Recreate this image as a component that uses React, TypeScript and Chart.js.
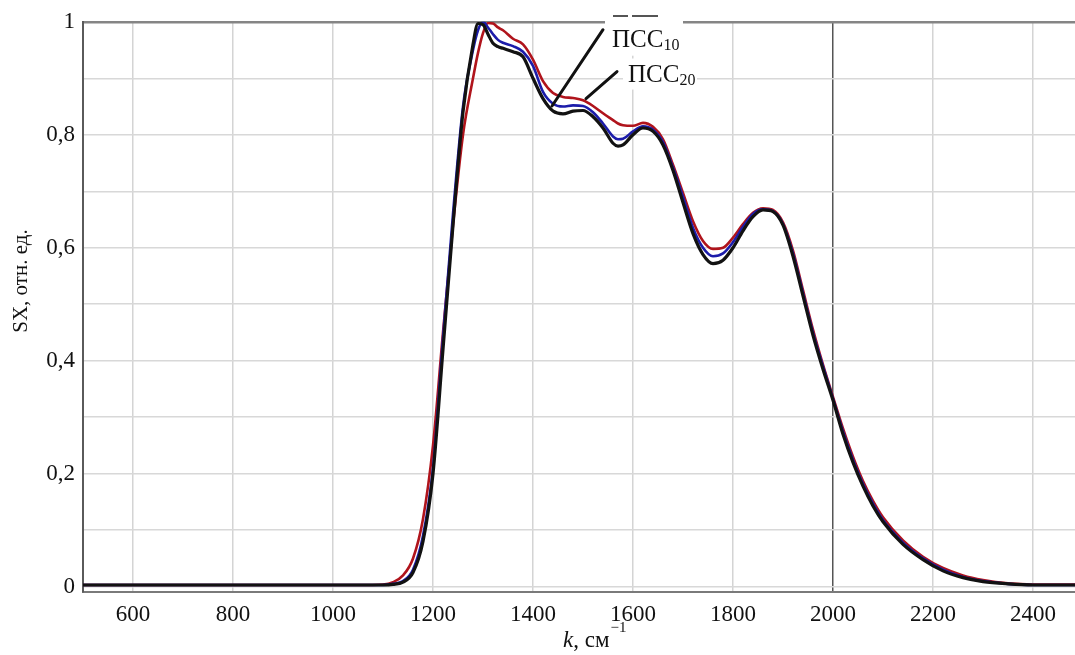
import React, { useEffect, useRef } from "react";
import { Chart, registerables } from "chart.js";

Chart.register(...registerables);

const kValues = [500, 600, 700, 800, 900, 1000, 1050, 1100, 1120, 1140, 1160, 1180, 1200, 1220, 1240, 1260, 1280, 1290, 1300, 1310, 1320, 1330, 1340, 1360, 1380, 1400, 1420, 1440, 1460, 1480, 1500, 1520, 1540, 1560, 1570, 1580, 1600, 1620, 1640, 1660, 1680, 1700, 1720, 1740, 1760, 1780, 1800, 1820, 1840, 1860, 1880, 1900, 1920, 1940, 1960, 1980, 2000, 2020, 2040, 2060, 2080, 2100, 2140, 2180, 2220, 2260, 2300, 2350, 2400, 2484];

const blackSeries = [0.003, 0.003, 0.003, 0.003, 0.003, 0.003, 0.003, 0.003, 0.004, 0.008, 0.025, 0.08, 0.2, 0.42, 0.64, 0.84, 0.96, 0.997, 0.995, 0.978, 0.962, 0.956, 0.953, 0.947, 0.938, 0.9, 0.864, 0.842, 0.837, 0.842, 0.843, 0.832, 0.812, 0.785, 0.78, 0.782, 0.8, 0.812, 0.806, 0.782, 0.737, 0.68, 0.625, 0.588, 0.572, 0.578, 0.6, 0.63, 0.655, 0.667, 0.664, 0.64, 0.585, 0.515, 0.445, 0.385, 0.33, 0.27, 0.22, 0.178, 0.143, 0.115, 0.075, 0.048, 0.028, 0.016, 0.009, 0.005, 0.003, 0.003];

const blueSeries = [0.003, 0.003, 0.003, 0.003, 0.003, 0.003, 0.003, 0.003, 0.005, 0.01, 0.03, 0.09, 0.21, 0.44, 0.66, 0.85, 0.95, 0.985, 1.0, 0.99, 0.978, 0.968, 0.963, 0.957, 0.947, 0.922, 0.876, 0.855, 0.85, 0.852, 0.851, 0.84, 0.82, 0.797, 0.792, 0.793, 0.806, 0.815, 0.809, 0.787, 0.742, 0.69, 0.635, 0.6, 0.585, 0.59, 0.61, 0.637, 0.66, 0.668, 0.665, 0.642, 0.59, 0.52, 0.45, 0.39, 0.333, 0.275, 0.225, 0.182, 0.147, 0.118, 0.078, 0.05, 0.03, 0.017, 0.01, 0.005, 0.003, 0.003];

const redSeries = [0.003, 0.003, 0.003, 0.003, 0.003, 0.003, 0.003, 0.004, 0.008, 0.02, 0.05, 0.12, 0.25, 0.45, 0.64, 0.8, 0.9, 0.945, 0.98, 0.998, 0.997, 0.99, 0.985, 0.97, 0.96, 0.933, 0.895, 0.874, 0.867, 0.865, 0.861, 0.851, 0.838, 0.826, 0.82, 0.817, 0.816, 0.821, 0.814, 0.792, 0.747, 0.697, 0.647, 0.612, 0.598, 0.6, 0.618, 0.642, 0.662, 0.67, 0.667, 0.645, 0.595, 0.525, 0.455, 0.393, 0.336, 0.28, 0.23, 0.187, 0.152, 0.123, 0.082, 0.053, 0.033, 0.02, 0.012, 0.006, 0.004, 0.004];

const xTickValues = [600, 800, 1000, 1200, 1400, 1600, 1800, 2000, 2200, 2400];
const yGridValues = [0, 0.1, 0.2, 0.3, 0.4, 0.5, 0.6, 0.7, 0.8, 0.9, 1.0];
const yLabelValues = [0, 0.2, 0.4, 0.6, 0.8, 1.0];

const seriesNames = ["ПСС", "ПСС10", "ПСС20"];
const seriesColors = ["#121212", "#1c1caa", "#b0141c"];

const SERIF = "'Liberation Serif', 'DejaVu Serif', serif";

const overlayPlugin = {
  id: "overlay",
  afterDatasetsDraw(chart: any) {
    const ctx = chart.ctx;
    const xs = chart.scales.x;
    const ys = chart.scales.y;
    const px = (v: number) => xs.getPixelForValue(v);
    const py = (v: number) => ys.getPixelForValue(v);
    ctx.save();

    // label backgrounds
    ctx.fillStyle = "#ffffff";
    ctx.fillRect(px(1544), py(1.01), px(1700) - px(1544), py(0.94) - py(1.01));
    ctx.fillRect(px(1580), py(0.935), px(1728) - px(1580), py(0.88) - py(0.935));

    // remnant of a clipped label above the plot
    ctx.fillStyle = "#555";
    ctx.fillRect(px(1560), 15, px(1590) - px(1560), 2);
    ctx.fillRect(px(1598), 15, px(1650) - px(1598), 2);

    // leader lines
    ctx.strokeStyle = "#111";
    ctx.lineWidth = 3;
    ctx.lineCap = "round";
    ctx.beginPath();
    ctx.moveTo(px(1540), py(0.986));
    ctx.lineTo(px(1438), py(0.851));
    ctx.moveTo(px(1568), py(0.912));
    ctx.lineTo(px(1506), py(0.864));
    ctx.stroke();

    const drawSub = (main: string, sub: string, x: number, y: number) => {
      ctx.fillStyle = "#111";
      ctx.textBaseline = "alphabetic";
      ctx.textAlign = "left";
      ctx.font = `25px ${SERIF}`;
      ctx.fillText(main, x, y);
      const w = ctx.measureText(main).width;
      ctx.font = `16px ${SERIF}`;
      ctx.fillText(sub, x + w, y + 3);
    };
    drawSub("ПСС", "10", px(1558), py(0.956));
    drawSub("ПСС", "20", px(1590), py(0.894));

    // x axis title
    ctx.fillStyle = "#111";
    ctx.textBaseline = "alphabetic";
    ctx.textAlign = "left";
    let x = 563;
    const yb = 647;
    ctx.font = `italic 23px ${SERIF}`;
    ctx.fillText("k", x, yb);
    x += ctx.measureText("k").width;
    ctx.font = `23px ${SERIF}`;
    ctx.fillText(", см", x, yb);
    x += ctx.measureText(", см").width;
    ctx.font = `15px ${SERIF}`;
    ctx.fillText("−1", x + 1, yb - 15);

    // y axis title
    ctx.translate(21, 281);
    ctx.rotate(-Math.PI / 2);
    ctx.textAlign = "center";
    ctx.textBaseline = "middle";
    ctx.font = `21px ${SERIF}`;
    ctx.fillText("SX, отн. ед.", 0, 0);
    ctx.restore();
  },
};

export default function App() {
  const ref = useRef<HTMLCanvasElement | null>(null);
  useEffect(() => {
    if (!ref.current) return;
    const seriesValues = [blackSeries, blueSeries, redSeries];
    const chart = new Chart(ref.current, {
      type: "line",
      data: {
        datasets: seriesValues.map((vals, i) => ({
          label: seriesNames[i],
          data: kValues.map((k, j) => ({ x: k, y: vals[j] })),
          borderColor: seriesColors[i],
          borderWidth: i === 0 ? 3.2 : 2.6,
          pointRadius: 0,
          cubicInterpolationMode: "monotone" as const,
          fill: false,
        })),
      },
      options: {
        animation: false,
        responsive: false,
        maintainAspectRatio: false,
        layout: { padding: { top: 20, right: 0, left: 0, bottom: 0 } },
        plugins: { legend: { display: false }, tooltip: { enabled: false } },
        scales: {
          x: {
            type: "linear",
            min: 500,
            max: 2484,
            afterBuildTicks: (s: any) => {
              s.ticks = xTickValues.map((v) => ({ value: v }));
            },
            afterFit: (s: any) => {
              s.height = 63;
            },
            ticks: {
              padding: 9,
              color: "#111",
              font: { family: SERIF, size: 23 },
              callback: (v: any) => String(v),
              maxRotation: 0,
              autoSkip: false,
            },
            grid: {
              drawTicks: false,
              color: (c: any) => (c.tick && c.tick.value === 2000 ? "#555555" : "#d4d4d4"),
              lineWidth: 1.5,
            },
            border: { display: true, color: "#7a7a7a", width: 2 },
          },
          y: {
            type: "linear",
            min: -0.0094,
            max: 1.0,
            afterBuildTicks: (s: any) => {
              s.ticks = yGridValues.map((v) => ({ value: v }));
            },
            afterFit: (s: any) => {
              s.width = 83;
            },
            ticks: {
              padding: 8,
              color: "#111",
              font: { family: SERIF, size: 23 },
              autoSkip: false,
              callback: (v: any) => {
                const n = Number(v);
                const hit = yLabelValues.find((t) => Math.abs(t - n) < 1e-6);
                if (hit === undefined) return "";
                return String(Math.round(hit * 10) / 10).replace(".", ",");
              },
            },
            grid: {
              drawTicks: false,
              color: (c: any) => (c.tick && Math.abs(c.tick.value - 1) < 1e-6 ? "#858585" : "#d8d8d8"),
              lineWidth: (c: any) => (c.tick && Math.abs(c.tick.value - 1) < 1e-6 ? 2.5 : 1.5),
            },
            border: { display: true, color: "#5a5a5a", width: 2 },
          },
        },
      },
      plugins: [overlayPlugin],
    });
    return () => chart.destroy();
  }, []);
  return (
    <div style={{ position: "fixed", left: 0, top: 0, width: 1075, height: 655, background: "#fff" }}>
      <canvas ref={ref} width={1075} height={655} style={{ width: 1075, height: 655, display: "block" }} />
    </div>
  );
}
